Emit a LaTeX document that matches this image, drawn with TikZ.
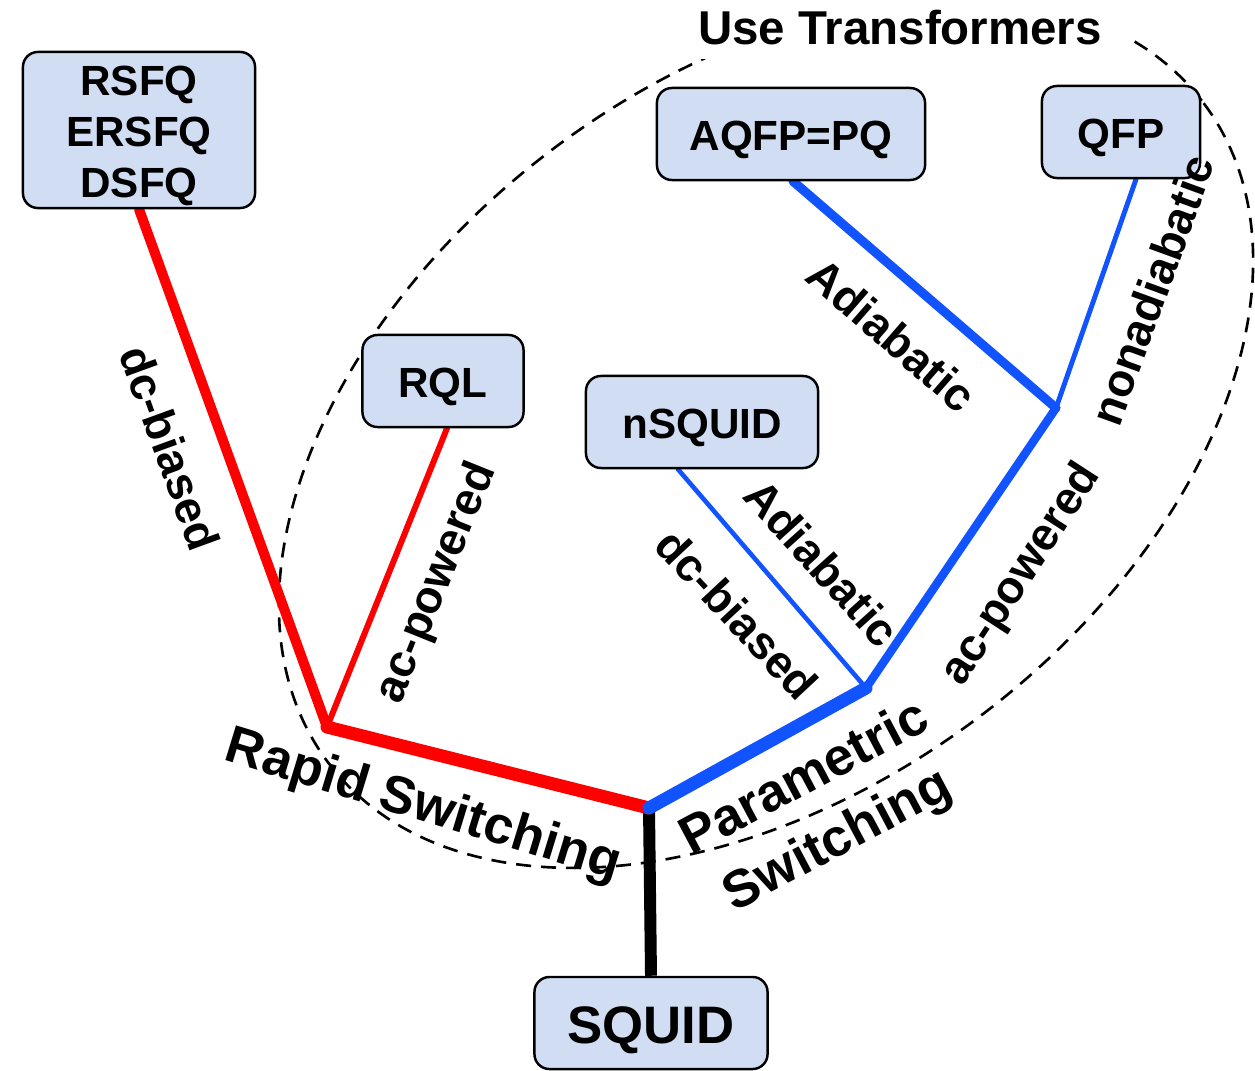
\documentclass[tikz,border=0pt]{standalone}
\usepackage{fontspec}
\setmainfont{Liberation Sans}
\usetikzlibrary{backgrounds,calc}
\definecolor{boxfill}{HTML}{D1DDF2}
\definecolor{sfqred}{HTML}{FF0000}
\definecolor{pqblue}{HTML}{1053FF}

\begin{document}
\begin{tikzpicture}[
    x=0.01cm, y=-0.01cm,
    every node/.style={font=\bfseries\fontsize{12}{14.5}\selectfont},
    family/.style={
      rectangle, rounded corners=0.15cm,
      draw=black, line width=0.7pt,
      fill=boxfill, align=center,
      minimum height=0.92cm, inner sep=0pt,
      execute at begin node={\rule{0pt}{0.97em}}
    },
    branchlabel/.style={font=\bfseries\fontsize{13}{15}\selectfont, inner sep=0pt},
    grouplabel/.style={font=\bfseries\fontsize{15}{20}\selectfont, align=center, inner sep=0pt},
    sfqline/.style={draw=sfqred, line cap=round},
    pqline/.style={draw=pqblue, line cap=round},
    region/.style={dash pattern=on 0.15cm off 0.1cm, line width=0.75pt},
  ]
  \useasboundingbox (0,0) rectangle (1255,1070);

  % Logic families
  \node[family, minimum width=2.32cm, minimum height=1.56cm] (rsfq) at (139,130)
    {\rule{0pt}{0.97em}RSFQ\\ERSFQ\\DSFQ};
  \node[family, minimum width=2.68cm] (aqfp)   at (791,134)  {AQFP=PQ};
  \node[family, minimum width=1.58cm] (qfp)    at (1121,132) {QFP};
  \node[family, minimum width=1.61cm] (rql)    at (443,381)  {RQL};
  \node[family, minimum width=2.32cm] (nsquid) at (702,422)  {nSQUID};
  \node[family, minimum width=2.33cm, font=\bfseries\fontsize{15}{17}\selectfont]
    (squid) at (651,1023) {SQUID};

  % Branch points
  \coordinate (root)  at (649,808);
  \coordinate (rapid) at (327,727);
  \coordinate (param) at (866,688);
  \coordinate (acpw)  at (1056,408);

  \begin{scope}[on background layer]
    % transformer region
    \draw[region, rotate around={37:(766,433)}] (766,433) ellipse [x radius=548, y radius=355];

    % tree
    \draw[line width=3.4pt] (squid.north) -- (root);
    \draw[sfqline, line width=3.7pt]  (root) -- (rapid);
    \draw[sfqline, line width=2.85pt] (rapid) -- (rsfq.south);
    \draw[sfqline, line width=1.7pt]  (rapid) -- ([xshift=0.04cm]rql.south);
    \draw[pqline, line width=3.7pt] (root) -- (param);
    \draw[pqline, line width=1.3pt] (param) -- ([xshift=-0.24cm]nsquid.south);
    \draw[pqline, line width=2.4pt] (param) -- (acpw);
    \draw[pqline, line width=2.6pt] (acpw) -- ([xshift=0.02cm]aqfp.south);
    \draw[pqline, line width=1.4pt] (acpw) -- ([xshift=0.15cm]qfp.south);
  \end{scope}

  \node[fill=white, inner xsep=0.25cm, inner ysep=0.14cm, font=\bfseries\fontsize{13.5}{16}\selectfont]
    (transf) at (900,28) {Use Transformers};

  % Branch labels
  \node[branchlabel, rotate=-70] (dcl)  at (170,448)  {dc-biased};
  \node[branchlabel, rotate=68]  (acl)  at (437,583)  {ac-powered};
  \node[branchlabel, rotate=-41] (adu)  at (892,335)  {Adiabatic};
  \node[branchlabel, rotate=70]  (nad)  at (1152,290) {nonadiabatic};
  \node[branchlabel, rotate=57]  (acr)  at (1022,575) {ac-powered};
  \node[branchlabel, rotate=-48] (adl)  at (822,563)  {Adiabatic};
  \node[branchlabel, rotate=-47] (dcr)  at (737,614)  {dc-biased};

  \node[grouplabel, rotate=-17] (rsw) at (423,807) {Rapid Switching};
  \node[grouplabel, rotate=28]  (psw) at (822,811) {Parametric\\Switching};

\end{tikzpicture}
\end{document}
